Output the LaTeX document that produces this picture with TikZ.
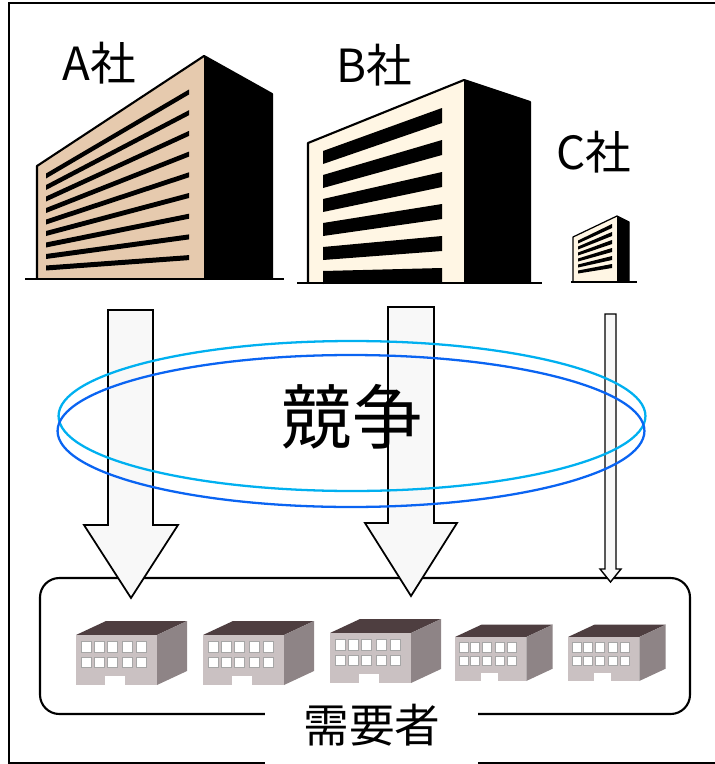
\documentclass[tikz,border=0pt]{standalone}
\usepackage{fontspec}
\setmainfont{Noto Sans CJK JP}
\usepackage{tikz}

\definecolor{tanface}{HTML}{E6CAAE}
\definecolor{creamface}{HTML}{FFF6E4}
\definecolor{ringlight}{HTML}{00B0F0}
\definecolor{ringdark}{HTML}{0A64F2}
\definecolor{arrowfill}{HTML}{F8F8F8}
\definecolor{factfront}{HTML}{CAC1C2}
\definecolor{factside}{HTML}{8E8486}
\definecolor{factroof}{HTML}{4E3E40}

% small customer building, front top-left corner at (#1,#2), scaled by #3
\newcommand{\factory}[3]{%
	\begin{scope}[shift={(#1,#2)},scale=#3]
		\fill[factroof] (0,0) -- (30,-14) -- (111,-14) -- (81,0) -- cycle;
		\fill[factside] (81,0) -- (111,-14) -- (111,36) -- (81,50) -- cycle;
		\fill[factfront] (0,0) rectangle (81,50);
		\foreach \wx in {5,18,31,46,60} {
			\filldraw[fill=white,draw=gray!70,line width=0.5pt] (\wx,6) rectangle ++(10,11);
			\filldraw[fill=white,draw=gray!70,line width=0.5pt] (\wx,22) rectangle ++(10,10);
		}
		\fill[white] (29,41) rectangle (49,50);
	\end{scope}}

\begin{document}
\begin{tikzpicture}[x=0.02cm,y=-0.02cm,
		bigtext/.style={font=\fontsize{26}{30}\selectfont},
		outline/.style={line width=1.2pt,line join=round},
		ground/.style={line width=1.4pt},
		blockarrow/.style={fill=arrowfill,draw=black,line width=1pt,line join=miter},
		ring/.style={line width=1.3pt}]
	\tikzstyle{every node}+=[inner sep=0pt]
	\useasboundingbox (0,0) rectangle (714,764);
	\draw[line width=1pt] (9,3) rectangle (730,763);

	% company A
	\fill[tanface] (37,278) -- (37,166) -- (204,56) -- (204,278) -- cycle;
	\foreach \i in {0,...,8}
		\fill (46,{173.5+11.5*\i}) -- (189,{89.5+20.7*\i}) -- (189,{94.5+20.7*\i}) -- (46,{178.5+11.5*\i}) -- cycle;
	\fill (204,56) -- (272,94) -- (272,278) -- (204,278) -- cycle;
	\draw[outline] (37,278) -- (37,166) -- (204,56) -- (272,94) -- (272,278);
	\draw[ground] (25,279) -- (284,279);
	\node[bigtext] (lblA) at (99,63) {A社};

	% company B
	\fill[creamface] (308,283) -- (308,143) -- (464,80) -- (464,283) -- cycle;
	\foreach \i in {0,...,5}
		\fill (323,{151+24*\i}) -- (442,{108+32*\i}) -- (442,{123+32*\i}) -- (323,{164+24*\i}) -- cycle;
	\fill (464,80) -- (530,102) -- (530,283) -- (464,283) -- cycle;
	\draw[outline] (308,283) -- (308,143) -- (464,80) -- (530,102) -- (530,283);
	\draw[ground] (297,283) -- (542,283);
	\node[bigtext] (lblB) at (374,65) {B社};

	% company C
	\fill[creamface] (573,281) -- (573,237) -- (617,216) -- (617,281) -- cycle;
	\foreach \i in {0,...,5}
		\fill (578,{240.5+6*\i}) -- (612,{224+8*\i}) -- (612,{228+8*\i}) -- (578,{243.5+6*\i}) -- cycle;
	\fill (617,216) -- (629,222) -- (629,281) -- (617,281) -- cycle;
	\draw[line width=0.7pt,line join=round] (573,281) -- (573,237) -- (617,216) -- (629,222) -- (629,281);
	\draw[line width=0.9pt] (571,282) -- (637,282);
	\node[bigtext] (lblC) at (594,152) {C社};

	% customers
	\draw[line width=1.2pt,rounded corners=11pt] (40,578) rectangle (690,714);
	\factory{76}{635}{1}
	\factory{203}{635}{1}
	\factory{330}{633}{1}
	\factory{455}{637}{0.88}
	\factory{568}{637}{0.88}
	\fill[white] (265,692) rectangle (478,770);
	\node[bigtext] (juyo) at (372,725) {需要者};

	% supply arrows
	\draw[blockarrow] (108,310) -- (153,310) -- (153,525) -- (178,525) -- (131,598) -- (84,525) -- (108,525) -- cycle;
	\draw[blockarrow] (388,307) -- (434,307) -- (434,523) -- (457,523) -- (411,596) -- (365,523) -- (388,523) -- cycle;
	\draw[blockarrow,line width=0.8pt] (605,314) -- (616,314) -- (616,569) -- (621,569) -- (610.5,582) -- (600,569) -- (605,569) -- cycle;

	% competition rings
	\draw[ring,ringlight] (352,416) ellipse [x radius=5.87cm,y radius=1.5cm];
	\draw[ring,ringdark] (351,431) ellipse [x radius=5.87cm,y radius=1.52cm];
	\node[font=\fontsize{40}{44}\selectfont] (kyoso) at (352,417) {競争};
\end{tikzpicture}
\end{document}
